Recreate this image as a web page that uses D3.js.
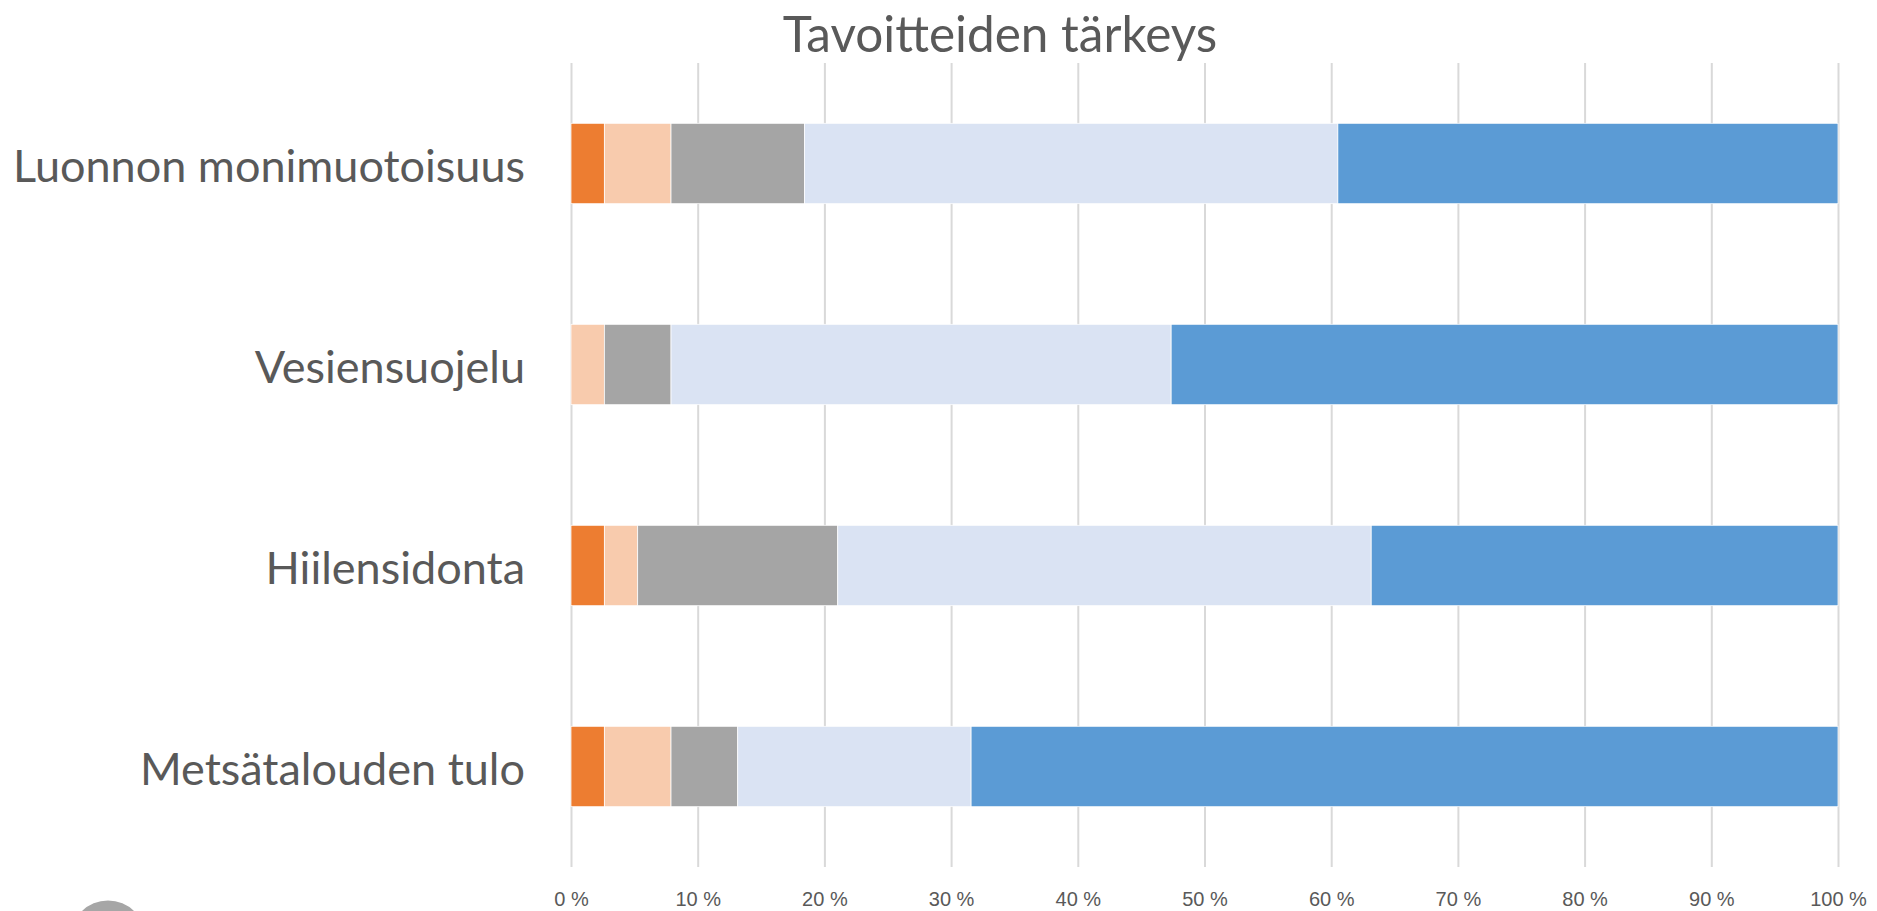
<!DOCTYPE html>
<meta charset="utf-8">
<style>
body { margin: 0; background: #fff; }
svg { display: block; font-family: Lato, "Open Sans", sans-serif; }
.grid line { stroke: #d9d9d9; stroke-width: 2; }
.grid path { display: none; }
.grid text { fill: #595959; font-size: 20px; }
.cat { fill: #595959; font-size: 45px; }
.title { fill: #595959; font-size: 49.5px; }
</style>
<svg width="1877" height="911"></svg>
<script src="https://cdn.jsdelivr.net/npm/d3@7"></script>
<script>
// answers per goal, counted from the least important (left) to the most important (right)
var categories = ["Luonnon monimuotoisuus", "Vesiensuojelu", "Hiilensidonta", "Metsätalouden tulo"]
var levels = ["1", "2", "3", "4", "5"]
var level1 = [1, 0, 1, 1]
var level2 = [2, 1, 1, 2]
var level3 = [4, 2, 6, 2]
var level4 = [16, 15, 16, 7]
var level5 = [15, 20, 14, 26]
var colors = ["#ed7d31", "#f8cbad", "#a5a5a5", "#dae3f3", "#5b9bd5"]
var xTicks = [0, .1, .2, .3, .4, .5, .6, .7, .8, .9, 1]
var titleText = "Tavoitteiden tärkeys"

var rows = categories.map(function(c, i){
  return {cat: c, "1": level1[i], "2": level2[i], "3": level3[i], "4": level4[i], "5": level5[i]}
})

// plot area (window.top is taken, so own names)
var plotLeft = 571, plotRight = 1838,
    plotTop = 63, plotBottom = 867

var svg = d3.select("svg")

var x = d3.scaleLinear().domain([0, 1]).range([plotLeft, plotRight])
var y = d3.scaleBand().domain(categories).range([plotTop, plotBottom]).paddingInner(0.6).paddingOuter(0.3)
var color = d3.scaleOrdinal().domain(levels).range(colors)

var series = d3.stack().keys(levels).offset(d3.stackOffsetExpand)(rows)

// gridlines + percent labels
var grid = svg.append("g")
  .attr("class", "grid")
  .attr("transform", "translate(0," + plotBottom + ")")
  .call(d3.axisBottom(x)
    .tickValues(xTicks)
    .tickSize(-(plotBottom - plotTop))
    .tickFormat(function(d){ return Math.round(d * 100) + " %" }))
grid.selectAll("text").attr("y", 39).attr("dy", 0)

svg.append("g")
  .selectAll("g")
  .data(series)
  .enter().append("g")
    .attr("fill", function(d){ return color(d.key) })
  .selectAll("rect")
  .data(function(d){ return d })
  .enter().append("rect")
    .attr("x", function(d){ return x(d[0]) })
    .attr("width", function(d){ return x(d[1]) - x(d[0]) })
    .attr("y", function(d){ return y(d.data.cat) })
    .attr("height", y.bandwidth())
    .attr("stroke", "#fff")
    .attr("stroke-width", 0.75)

svg.append("g")
  .selectAll("text")
  .data(categories)
  .enter().append("text")
    .attr("class", "cat")
    .attr("text-anchor", "end")
    .attr("x", plotLeft - 46)
    .attr("y", function(d){ return y(d) + y.bandwidth() / 2 })
    .attr("dy", "0.4em")
    .text(function(d){ return d })

svg.append("text")
  .attr("class", "title")
  .attr("text-anchor", "middle")
  .attr("x", 1000)
  .attr("y", 52)
  .text(titleText)

// bit of the logo peeking in at the bottom left corner
svg.append("circle")
  .attr("cx", 108)
  .attr("cy", 938)
  .attr("r", 37.5)
  .attr("fill", "#a6a6a6")
</script>
